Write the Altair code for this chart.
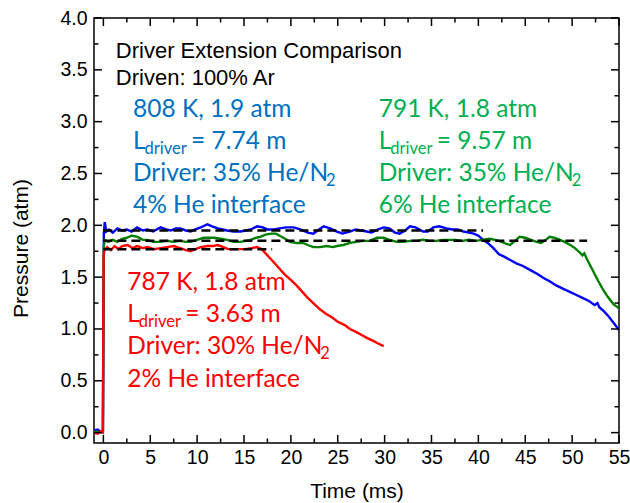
import altair as alt
import pandas as pd

# ---- pressure traces: time (ms) and pressure (atm) ----
blue_t = [-1.0, -0.6, -0.3, -0.05, 0.05, 0.15, 0.3, 0.6, 1.0, 1.5, 2.0, 2.5, 3.0, 3.6, 4.2, 4.7,
          5.3, 6.1, 6.7, 7.2, 7.7, 8.2, 8.8, 9.3, 9.8, 10.4, 11.1, 11.6, 12.2, 12.7, 13.2, 13.9,
          14.6, 15.2, 15.7, 16.4, 17.0, 17.5, 18.2, 18.8, 19.5, 20.3, 21.0, 21.8, 22.4, 23.0,
          23.5, 24.2, 24.9, 25.5, 26.3, 26.9, 27.5, 28.1, 28.6, 29.3, 29.9, 30.5, 31.1, 31.6,
          32.2, 32.7, 33.3, 34.1, 34.6, 35.2, 35.8, 36.6, 37.2, 37.8, 38.4, 39.0, 39.5, 40.0,
          40.5, 41.0, 41.6, 42.2, 42.7, 43.3, 44.1, 44.7, 45.5, 46.3, 47.0, 47.6, 48.3, 49.0,
          49.7, 50.4, 51.1, 51.8, 52.4, 52.7, 52.9, 53.4, 53.9, 54.5, 55.0]
blue_p = [0.02, 0.03, 0.01, 0.02, 1.92, 2.03, 1.94, 1.96, 1.93, 1.97, 1.95, 1.96, 1.94, 1.98, 1.95, 1.96,
          1.94, 1.98, 1.96, 1.95, 1.97, 1.97, 1.95, 1.94, 1.96, 1.98, 2.01, 1.99, 1.97, 1.96, 1.95, 1.94,
          1.94, 1.95, 1.96, 1.99, 1.98, 1.96, 1.96, 1.97, 1.98, 1.98, 1.96, 1.93, 1.92, 1.96,
          1.99, 1.97, 1.94, 1.92, 1.94, 1.96, 1.95, 1.94, 1.93, 1.96, 1.98, 1.97, 1.93, 1.92,
          1.95, 1.99, 1.98, 1.94, 1.94, 1.98, 1.99, 1.97, 1.96, 1.96, 1.94, 1.93, 1.92, 1.90,
          1.86, 1.83, 1.78, 1.72, 1.70, 1.67, 1.63, 1.61, 1.57, 1.53, 1.49, 1.46, 1.42, 1.39,
          1.36, 1.33, 1.30, 1.27, 1.23, 1.25, 1.21, 1.17, 1.12, 1.05, 0.99]

green_t = [-1.0, -0.05, 0.05, 0.15, 0.5, 1.0, 1.5, 2.0, 2.5, 3.0, 3.6, 4.2, 4.7, 5.3, 6.1, 6.8,
           7.5, 8.2, 8.8, 9.3, 10.0, 10.7, 11.3, 11.8, 12.5, 13.2, 13.9, 14.6, 15.2, 15.7, 16.3,
           16.8, 17.3, 17.9, 18.4, 18.8, 19.4, 19.9, 20.6, 21.3, 21.8, 22.4, 23.1, 23.8, 24.5,
           24.9, 25.6, 26.3, 27.0, 27.7, 28.4, 29.2, 29.9, 30.5, 31.3, 32.0, 32.7, 33.4, 34.1,
           34.8, 35.5, 36.2, 36.9, 37.6, 38.3, 39.0, 39.7, 40.4, 41.2, 41.8, 42.5, 43.0, 43.4,
           43.9, 44.4, 45.0, 45.6, 46.2, 46.7, 47.2, 47.6, 48.1, 48.7, 49.2, 49.8, 50.3, 50.8,
           51.1, 51.3, 51.6, 52.0, 52.4, 52.8, 53.3, 53.8, 54.4, 55.0]
green_p = [0.01, 0.01, 1.80, 1.86, 1.84, 1.86, 1.84, 1.87, 1.88, 1.90, 1.89, 1.86, 1.86, 1.84, 1.84, 1.85,
           1.84, 1.85, 1.84, 1.84, 1.86, 1.88, 1.88, 1.88, 1.87, 1.86, 1.84, 1.84, 1.85, 1.86, 1.88,
           1.89, 1.91, 1.92, 1.92, 1.90, 1.87, 1.84, 1.83, 1.83, 1.81, 1.79, 1.79, 1.80, 1.79,
           1.80, 1.81, 1.83, 1.84, 1.85, 1.85, 1.88, 1.88, 1.86, 1.84, 1.84, 1.85, 1.85, 1.86,
           1.85, 1.85, 1.86, 1.86, 1.86, 1.85, 1.86, 1.85, 1.86, 1.87, 1.86, 1.84, 1.82, 1.81,
           1.85, 1.89, 1.88, 1.86, 1.84, 1.83, 1.86, 1.89, 1.88, 1.86, 1.84, 1.81, 1.78, 1.74,
           1.71, 1.73, 1.67, 1.60, 1.53, 1.46, 1.38, 1.31, 1.24, 1.20]

red_t = [-1.0, -0.6, -0.3, -0.05, 0.02, 0.1, 0.4, 0.8, 1.2, 1.6, 2.0, 2.6, 3.1, 3.6, 4.2, 4.7,
         5.4, 6.1, 6.8, 7.5, 8.2, 8.8, 9.3, 9.8, 10.4, 11.1, 11.7, 12.2, 12.8, 13.3, 13.9, 14.6,
         15.2, 15.8, 16.4, 16.9, 17.4, 18.0, 18.6, 19.3, 19.9, 20.6, 21.2, 21.8, 22.5, 23.1,
         23.7, 24.4, 25.0, 25.7, 26.3, 27.0, 27.6, 28.2, 28.8, 29.3, 29.9]
red_p = [0.0, -0.01, 0.01, 0.0, 1.70, 1.76, 1.79, 1.76, 1.80, 1.77, 1.80, 1.81, 1.78, 1.80, 1.78, 1.79,
         1.77, 1.78, 1.79, 1.80, 1.78, 1.76, 1.75, 1.77, 1.79, 1.80, 1.80, 1.81, 1.79, 1.77, 1.77, 1.77,
         1.77, 1.78, 1.79, 1.77, 1.72, 1.66, 1.60, 1.53, 1.48, 1.42, 1.36, 1.30, 1.24, 1.19,
         1.15, 1.11, 1.07, 1.04, 1.00, 0.97, 0.94, 0.91, 0.885, 0.86, 0.835]

# ---- dashed plateau levels (atm) and their time spans (ms) ----
ref_level = [1.95, 1.85, 1.77]
ref_start = [0.0, 0.0, 0.0]
ref_end = [40.5, 51.6, 18.0]

# ---- run conditions ----
run_temp = [808, 791, 787]          # K
run_pres = [1.9, 1.8, 1.8]          # atm
run_len = [7.74, 9.57, 3.63]        # driver length, m
run_drv_he = [35, 35, 30]           # % He in driver (He/N2)
run_int_he = [4, 6, 2]              # % He at interface

heading = ["Driver Extension Comparison", "Driven: 100% Ar"]

# ---- axis ticks ----
x_major = [0, 5, 10, 15, 20, 25, 30, 35, 40, 45, 50, 55]
x_minor = [2.5, 7.5, 12.5, 17.5, 22.5, 27.5, 32.5, 37.5, 42.5, 47.5, 52.5]
y_major = [0.0, 0.5, 1.0, 1.5, 2.0, 2.5, 3.0, 3.5, 4.0]
y_minor = [0.25, 0.75, 1.25, 1.75, 2.25, 2.75, 3.25, 3.75]

# ---- layout ----
W, H = 525, 425
X_DOM = [-1, 55]
Y_DOM = [-0.1, 4.0]
MS_PER_PX = (X_DOM[1] - X_DOM[0]) / W
ATM_PER_PX = (Y_DOM[1] - Y_DOM[0]) / H
MAJOR_LEN, MINOR_LEN = 8, 4.5

TRACE_COLORS = ["#0000FF", "#008000", "#FF0000"]
TEXT_COLORS = ["#0070C0", "#00B050", "#FF0000"]
TEXT_FONT = "Lato"
MAIN_SIZE = 24.5
SUB_SIZE = 16.5

xs = alt.Scale(domain=X_DOM, nice=False, zero=False)
ys = alt.Scale(domain=Y_DOM, nice=False, zero=False)

x_label_axis = alt.Axis(orient="bottom", values=x_major, ticks=False, tickSize=0, domain=False,
                        grid=False, labelPadding=5, labelFontSize=19.5, labelFlush=False,
                        labelOverlap=False, title="Time (ms)", titleFontSize=21,
                        titleY=54, titleBaseline="alphabetic")
y_label_axis = alt.Axis(orient="left", values=y_major, format=".1f", ticks=False, tickSize=0,
                        domain=False, grid=False, labelPadding=7, labelFontSize=19.5,
                        labelFlush=False, labelOverlap=False, title="Pressure (atm)",
                        titleFontSize=21, titleAngle=270, titleX=-67, titleY=230,
                        titleAlign="center", titleBaseline="alphabetic")


def X(field, axis=None):
    return alt.X(field, scale=xs, axis=axis) if axis is not None else alt.X(field, scale=xs)


def Y(field, axis=None):
    return alt.Y(field, scale=ys, axis=axis) if axis is not None else alt.Y(field, scale=ys)


# ---- pressure traces (red drawn last, on top); the first layer carries the shared axes ----
layers = []
series = [(blue_t, blue_p), (green_t, green_p), (red_t, red_p)]
for k, ((t, p), color) in enumerate(zip(series, TRACE_COLORS)):
    df = pd.DataFrame({"t": t, "p": p})
    layers.append(
        alt.Chart(df).mark_line(color=color, strokeWidth=2.4, clip=True).encode(
            x=X("t:Q", x_label_axis if k == 0 else None),
            y=Y("p:Q", y_label_axis if k == 0 else None),
        )
    )

# ---- dashed plateau references ----
ref_df = pd.DataFrame({"xa": ref_start, "xb": ref_end, "lvl": ref_level})
dashes = alt.Chart(ref_df).mark_rule(color="black", strokeWidth=2.5, strokeDash=[9, 5]).encode(
    x=X("xa:Q"), x2="xb:Q", y=Y("lvl:Q"),
)


# ---- inward ticks on all four frame edges: each tick sits just inside its edge ----
def x_ticks(values, length):
    rows = [{"tv": v, "tc": edge + sign * 0.5 * length * ATM_PER_PX}
            for edge, sign in ((Y_DOM[0], 1), (Y_DOM[1], -1)) for v in values]
    return alt.Chart(pd.DataFrame(rows)).mark_tick(
        orient="vertical", size=length, thickness=1.5, color="black", opacity=1
    ).encode(x=X("tv:Q"), y=Y("tc:Q"))


def y_ticks(values, length):
    rows = [{"tv": v, "tc": edge + sign * 0.5 * length * MS_PER_PX}
            for edge, sign in ((X_DOM[0], 1), (X_DOM[1], -1)) for v in values]
    return alt.Chart(pd.DataFrame(rows)).mark_tick(
        orient="horizontal", size=length, thickness=1.5, color="black", opacity=1
    ).encode(x=X("tc:Q"), y=Y("tv:Q"))


tick_layers = [x_ticks(x_major, MAJOR_LEN), x_ticks(x_minor, MINOR_LEN),
               y_ticks(y_major, MAJOR_LEN), y_ticks(y_minor, MINOR_LEN)]

# ---- heading text (black) ----
HEAD_X, HEAD_Y, HEAD_STEP = 1.33, 3.611, 26.7 * ATM_PER_PX
head_df = pd.DataFrame({
    "hx": [HEAD_X] * len(heading),
    "hy": [HEAD_Y - i * HEAD_STEP for i in range(len(heading))],
    "text": heading,
})
head = alt.Chart(head_df).mark_text(align="left", baseline="alphabetic", font="Liberation Sans",
                                    fontSize=22, color="black").encode(
    x=X("hx:Q"), y=Y("hy:Q"), text="text:N",
)

# ---- coloured condition blocks, subscripts drawn as separate smaller pieces ----
BLOCK_X = [3.16, 29.37, 2.55]
BLOCK_Y = [3.048, 3.048, 1.376]
LINE_STEP = 32.2 * ATM_PER_PX
SUB_DROP = 5 * ATM_PER_PX
SUB_DRIVER_DX = 11.5
EQ_DX = 58
SUB_N2_DX = 193

rows = []
for i in range(3):
    x0, y0, col = BLOCK_X[i], BLOCK_Y[i], TEXT_COLORS[i]

    def put(line, dx_px, text, size, drop=0.0):
        rows.append({"nx": x0 + dx_px * MS_PER_PX, "ny": y0 - line * LINE_STEP - drop,
                     "text": text, "size": size, "color": col})

    put(0, 0, f"{run_temp[i]} K, {run_pres[i]} atm", MAIN_SIZE)
    put(1, 0, "L", MAIN_SIZE)
    put(1, SUB_DRIVER_DX, "driver", SUB_SIZE, SUB_DROP)
    put(1, EQ_DX, f"= {run_len[i]:.2f} m", MAIN_SIZE)
    put(2, 0, f"Driver: {run_drv_he[i]}% He/N", MAIN_SIZE)
    put(2, SUB_N2_DX, "2", SUB_SIZE, SUB_DROP)
    put(3, 0, f"{run_int_he[i]}% He interface", MAIN_SIZE)

notes_df = pd.DataFrame(rows)
notes = alt.Chart(notes_df).mark_text(align="left", baseline="alphabetic", font=TEXT_FONT).encode(
    x=X("nx:Q"), y=Y("ny:Q"), text="text:N",
    color=alt.Color("color:N", scale=None),
    size=alt.Size("size:Q", scale=None),
)

chart = (
    alt.layer(*layers, dashes, *tick_layers, head, notes)
    .properties(width=W, height=H, autosize=alt.AutoSizeParams(type="none"),
                padding={"left": 94, "top": 18, "right": 11, "bottom": 60})
    .configure_view(stroke="black", strokeWidth=1.5)
    .configure_axis(grid=False, labelFont="Liberation Sans", titleFont="Liberation Sans",
                    titleFontWeight="normal", labelColor="black", titleColor="black")
)

chart.save("out.html", embed_options={"renderer": "svg", "actions": False})
